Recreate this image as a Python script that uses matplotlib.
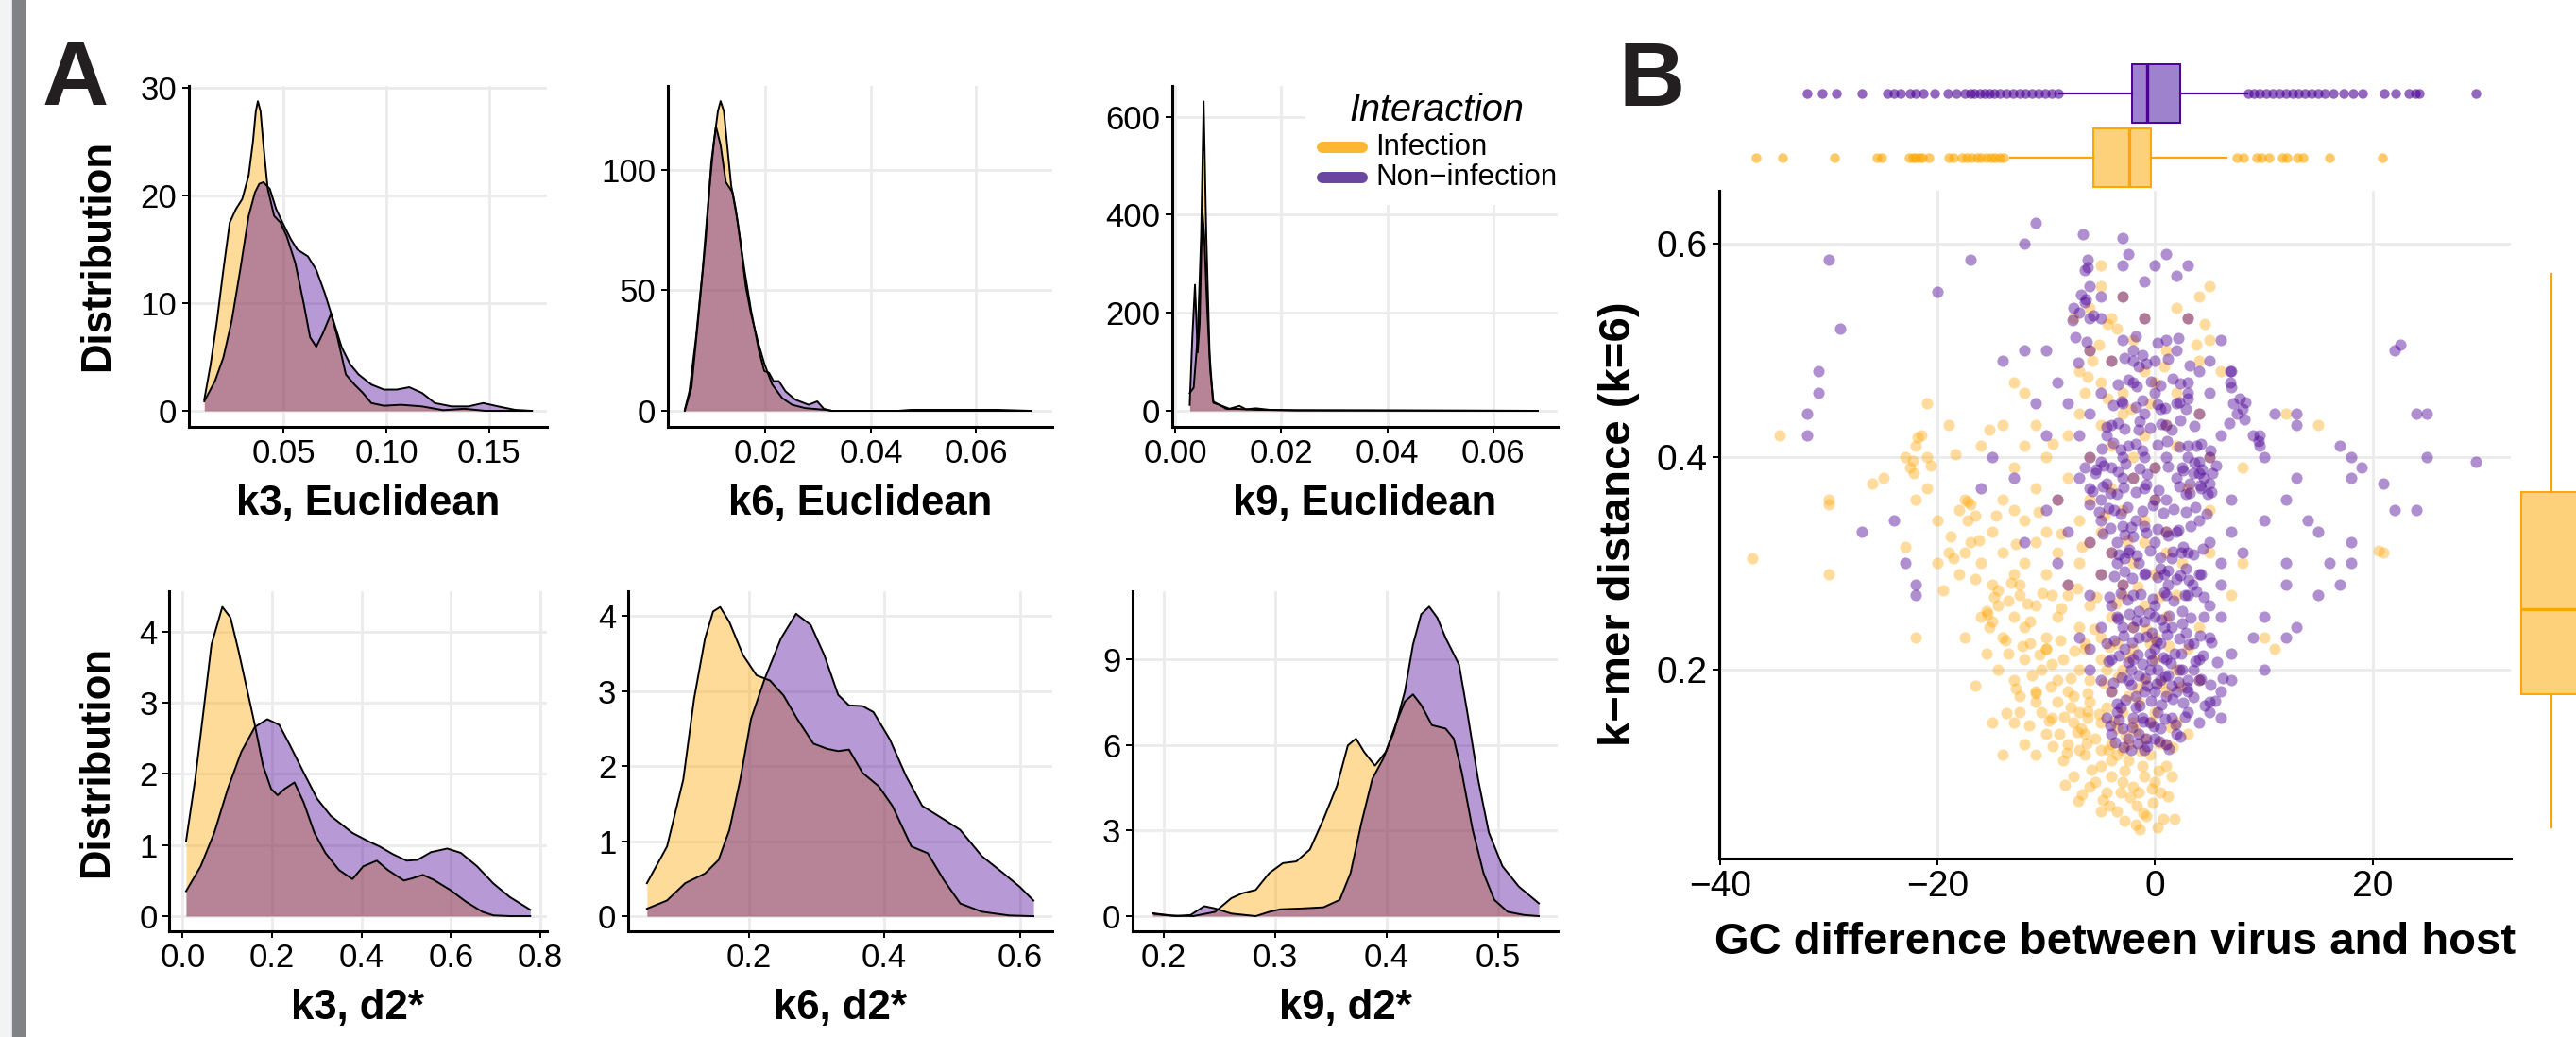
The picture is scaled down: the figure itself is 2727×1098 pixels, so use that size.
import numpy as np
import matplotlib
matplotlib.use("Agg")
import matplotlib.pyplot as plt
from matplotlib.lines import Line2D
from matplotlib.patches import Rectangle

plt.rcParams['font.family'] = ['Liberation Sans', 'DejaVu Sans']

# ---------------- data ----------------
# panel A densities (x, density) for Infection / Non-infection
k3e_x_inf = [0.0113, 0.0144, 0.0175, 0.0206, 0.0237, 0.0267, 0.0298, 0.0329, 0.035, 0.0364, 0.0374, 0.0387,
             0.0401, 0.0422, 0.0453, 0.0484, 0.0514, 0.0556, 0.0597, 0.0628, 0.0658, 0.0689, 0.073, 0.0761,
             0.0802, 0.0844, 0.0885, 0.0926, 0.0988, 0.107, 0.1173, 0.1276, 0.1379, 0.1481, 0.1584, 0.1708]
k3e_y_inf = [1.03, 4.32, 8.39, 13.09, 17.48, 18.73, 19.67, 21.86, 24.99, 27.81, 28.75, 27.81,
             24.68, 20.61, 18.1, 17.48, 16.22, 13.72, 9.96, 6.83, 5.95, 7.14, 9.02, 6.83,
             3.38, 2.44, 1.66, 0.72, 0.47, 0.56, 0.41, 0.06, 0.19, 0.0, 0.0, 0.0]
k3e_x_non = [0.0113, 0.0165, 0.0206, 0.0247, 0.0288, 0.0329, 0.036, 0.0381, 0.0401, 0.0432, 0.0463, 0.0494,
             0.0535, 0.0566, 0.0617, 0.0658, 0.07, 0.0741, 0.0782, 0.0823, 0.0864, 0.0926, 0.0988, 0.1049,
             0.1111, 0.1173, 0.1235, 0.1317, 0.1399, 0.1471, 0.1543, 0.1626, 0.1708]
k3e_y_non = [0.88, 2.76, 4.95, 8.39, 13.09, 18.1, 20.29, 21.08, 21.23, 20.61, 18.73, 17.48,
             15.91, 14.97, 14.35, 13.09, 10.9, 8.39, 5.89, 4.32, 3.38, 2.44, 1.97, 1.97,
             2.19, 1.66, 0.72, 0.41, 0.41, 0.72, 0.41, 0.09, 0.0]

k6e_x_inf = [0.00465, 0.00553, 0.00679, 0.00805, 0.00931, 0.01019, 0.01094, 0.01145, 0.01208, 0.0127, 0.01346,
             0.01434, 0.01522, 0.01623, 0.01723, 0.01849, 0.01975, 0.02126, 0.02314, 0.02503, 0.02755, 0.03132,
             0.03258, 0.04516, 0.05774, 0.07031]
k6e_y_inf = [0.42, 8.1, 30.5, 58.5, 92.0, 111.6, 124.2, 128.4, 124.2, 110.2, 93.4,
             83.6, 69.7, 51.5, 40.3, 29.1, 19.6, 10.9, 5.3, 2.5, 1.1, 0.4,
             0.0, 0.0, 0.0, 0.0]
k6e_x_non = [0.00465, 0.00591, 0.00717, 0.00868, 0.00969, 0.01057, 0.01145, 0.01245, 0.01371, 0.01472, 0.01597,
             0.01723, 0.01874, 0.01975, 0.02063, 0.02151, 0.02252, 0.02377, 0.02566, 0.02818, 0.02981, 0.03107,
             0.03258, 0.04516, 0.04767, 0.06403, 0.07031]
k6e_y_non = [0.0, 9.5, 37.5, 72.4, 103.2, 117.9, 110.2, 94.8, 90.6, 78.0, 58.5,
             41.7, 24.9, 16.5, 15.8, 12.3, 12.3, 8.1, 4.6, 2.5, 3.9, 0.8,
             0.0, 0.0, 0.4, 0.4, 0.0]

k9e_x_inf = [0.00275, 0.0035, 0.00425, 0.0049, 0.00538, 0.00588, 0.0065, 0.00713, 0.00838, 0.01025, 0.01213,
             0.01338, 0.01525, 0.01775, 0.02275, 0.0684]
k9e_y_inf = [36, 47, 150, 356, 631, 356, 116, 19, 12, 4, 10, 3, 5, 2, 1, 0]
k9e_x_non = [0.00275, 0.00325, 0.00375, 0.00425, 0.00463, 0.00513, 0.0055, 0.006, 0.00663, 0.00725, 0.00838,
             0.00963, 0.0115, 0.01525, 0.02275, 0.0684]
k9e_y_non = [12, 150, 257, 119, 178, 411, 356, 219, 81, 16, 12, 4, 4, 2, 1, 0]

k3d_x_inf = [0.0073, 0.0279, 0.0461, 0.0642, 0.0885, 0.1067, 0.1248, 0.143, 0.1612, 0.1794, 0.1976, 0.2121,
             0.2279, 0.2497, 0.2703, 0.2945, 0.3188, 0.3491, 0.3794, 0.4036, 0.4339, 0.4582, 0.4945, 0.5127,
             0.537, 0.5612, 0.5976, 0.6339, 0.6703, 0.6945, 0.7309, 0.777]
k3d_y_inf = [1.05, 1.93, 2.87, 3.82, 4.35, 4.2, 3.73, 3.21, 2.69, 2.12, 1.79, 1.70,
             1.79, 1.88, 1.6, 1.17, 0.89, 0.65, 0.52, 0.70, 0.78, 0.65, 0.5, 0.53,
             0.58, 0.51, 0.37, 0.2, 0.06, 0.01, 0.0, 0.0]
k3d_x_non = [0.0073, 0.04, 0.0703, 0.1006, 0.1309, 0.1612, 0.1891, 0.2158, 0.24, 0.2703, 0.3006, 0.3309,
             0.3794, 0.4158, 0.44, 0.4703, 0.5006, 0.5248, 0.5552, 0.5915, 0.6218, 0.6582, 0.6945, 0.7309, 0.777]
k3d_y_non = [0.35, 0.7, 1.17, 1.79, 2.31, 2.66, 2.77, 2.69, 2.4, 2.02, 1.65, 1.41,
             1.17, 1.05, 0.98, 0.87, 0.78, 0.79, 0.9, 0.95, 0.89, 0.7, 0.46, 0.27, 0.09]

k6d_x_inf = [0.05, 0.0797, 0.1036, 0.1196, 0.1357, 0.1476, 0.158, 0.1716, 0.1917, 0.2116, 0.2316, 0.2516,
             0.2716, 0.2955, 0.316, 0.332, 0.348, 0.368, 0.392, 0.412, 0.44, 0.464, 0.488, 0.512,
             0.544, 0.584, 0.62]
k6d_y_inf = [0.44, 0.93, 1.82, 2.9, 3.7, 4.06, 4.12, 3.92, 3.48, 3.21, 3.14, 2.94,
             2.63, 2.3, 2.23, 2.2, 2.22, 1.91, 1.73, 1.47, 0.93, 0.84, 0.48, 0.17,
             0.06, 0.01, 0.0]
k6d_x_non = [0.05, 0.0797, 0.1064, 0.1357, 0.1557, 0.1716, 0.1876, 0.2036, 0.2236, 0.2476, 0.27, 0.2916,
             0.3115, 0.332, 0.348, 0.368, 0.384, 0.408, 0.432, 0.456, 0.488, 0.512, 0.544, 0.576,
             0.6, 0.62]
k6d_y_non = [0.1, 0.21, 0.44, 0.57, 0.75, 1.15, 1.82, 2.63, 3.16, 3.7, 4.03, 3.88,
             3.48, 2.95, 2.81, 2.8, 2.72, 2.36, 1.87, 1.47, 1.29, 1.15, 0.8, 0.57,
             0.39, 0.21]

k9d_x_inf = [0.1903, 0.2073, 0.2267, 0.2462, 0.2608, 0.2705, 0.2827, 0.2948, 0.307, 0.3191, 0.3313, 0.3434,
             0.3556, 0.3653, 0.3726, 0.3799, 0.3896, 0.3993, 0.4091, 0.4164, 0.4237, 0.431, 0.4407, 0.4529,
             0.4602, 0.4674, 0.4771, 0.4869, 0.4966, 0.5087, 0.5233, 0.5365]
k9d_y_inf = [0.1, 0.02, 0.0, 0.15, 0.63, 0.8, 0.92, 1.51, 1.86, 1.92, 2.34, 3.4,
             4.58, 5.99, 6.23, 5.76, 5.28, 5.76, 6.82, 7.53, 7.78, 7.41, 6.7, 6.58,
             6.23, 5.05, 3.04, 1.51, 0.57, 0.15, 0.04, 0.0]
k9d_x_non = [0.1903, 0.2, 0.2122, 0.2243, 0.2365, 0.2462, 0.2608, 0.2827, 0.2948, 0.3045, 0.324, 0.3434,
             0.358, 0.3677, 0.3775, 0.3872, 0.3969, 0.4066, 0.4164, 0.4237, 0.431, 0.4382, 0.4455, 0.4528,
             0.465, 0.4723, 0.482, 0.4917, 0.5039, 0.5185, 0.5365]
k9d_y_non = [0.09, 0.04, 0.0, 0.04, 0.35, 0.27, 0.09, 0.0, 0.15, 0.24, 0.27, 0.31,
             0.57, 1.51, 3.28, 4.81, 5.52, 6.46, 7.88, 9.53, 10.59, 10.86, 10.47, 9.77,
             8.82, 7.17, 4.81, 2.93, 1.75, 1.04, 0.45]

# panel B scatter: (GC difference, k-mer distance)
infection_pts = [
    (-1.4, 0.05), (-0.8, 0.063), (0.7, 0.06), (-3.5, 0.067), (-5.0, 0.067), (-7.1, 0.077), (-2.3, 0.08),
    (-0.2, 0.075), (1.8, 0.06), (-1.8, 0.055), (0.2, 0.052), (-2.8, 0.058), (-4.2, 0.072), (-1.1, 0.065),
    (-7.5, 0.10), (-6, 0.09), (-5, 0.11), (-4, 0.10), (-3, 0.095), (-2, 0.09), (-1, 0.10), (0, 0.095),
    (1, 0.11), (-6.5, 0.12), (-4.5, 0.085), (-2.5, 0.115), (-1.5, 0.085), (0.5, 0.085), (-11, 0.12),
    (-3.5, 0.12), (-8.5, 0.115), (-0.5, 0.12), (1.5, 0.10), (-5.5, 0.095), (-2.8, 0.105), (-1.2, 0.11),
    (0.3, 0.105), (-4, 0.115), (-5.9, 0.106),
    (-8.3, 0.092), (-6.7, 0.083), (-4.8, 0.078), (-3.2, 0.085), (-1.7, 0.072), (-0.3, 0.088), (1.2, 0.081),
    (-13, 0.15), (-12.5, 0.16), (-11, 0.17), (-10, 0.14), (-9.5, 0.155), (-9, 0.17), (-8, 0.13), (-7.5, 0.15),
    (-7, 0.16), (-6.5, 0.14), (-6, 0.17), (-5.5, 0.135), (-5, 0.15), (-4.5, 0.165), (-4, 0.13), (-3.5, 0.145),
    (-3, 0.16), (-2.5, 0.13), (-2, 0.15), (-1.5, 0.17), (-1, 0.135), (0, 0.16), (1, 0.13), (2, 0.15),
    (-15, 0.15), (-14, 0.12), (-12, 0.13), (-7, 0.125), (-5, 0.125), (-3, 0.125), (3, 0.14), (-6.8, 0.145),
    (-6.2, 0.155), (-7.8, 0.165), (-8.8, 0.14), (-10.5, 0.16), (-6.2, 0.161), (-13.7, 0.159),
    (-9.4, 0.128), (-8.1, 0.122), (-6.3, 0.131), (-4.3, 0.125), (-2.7, 0.138), (-1.3, 0.124), (0.4, 0.131),
    (1.6, 0.127), (-11.6, 0.148), (-9.8, 0.152), (-8.4, 0.156), (-7.2, 0.142), (-5.2, 0.158), (-3.8, 0.152),
    (-1.8, 0.143), (-0.4, 0.151), (1.4, 0.146),
    (-14.5, 0.20), (-13, 0.19), (-12, 0.21), (-11, 0.18), (-10.5, 0.20), (-10, 0.22), (-9, 0.19), (-8.5, 0.21),
    (-8, 0.18), (-7, 0.20), (-6.5, 0.22), (-6, 0.19), (-5, 0.21), (-4, 0.18), (-3, 0.20), (-2, 0.22),
    (-1, 0.19), (0, 0.21), (1, 0.18), (2, 0.20), (3, 0.22), (4, 0.19), (-15.5, 0.215), (-11.5, 0.225),
    (-7.5, 0.175), (-4.5, 0.20), (-2.5, 0.175), (-0.5, 0.225), (-9.5, 0.205), (-12.5, 0.175), (-13.5, 0.215),
    (-16.5, 0.185), (-11, 0.178),
    (-12.8, 0.182), (-11.3, 0.195), (-9.6, 0.184), (-7.8, 0.192), (-6.2, 0.178), (-4.7, 0.188), (-3.4, 0.193),
    (-1.6, 0.182), (0.6, 0.188), (2.4, 0.184),
    (-16, 0.25), (-15, 0.245), (-15.5, 0.255), (-14.5, 0.26), (-14, 0.23), (-13, 0.25), (-12, 0.24),
    (-11, 0.26), (-10, 0.23), (-9, 0.25), (-8, 0.27), (-7, 0.24), (-6, 0.26), (-5, 0.23), (-4, 0.25),
    (-3, 0.27), (-2, 0.24), (-1, 0.26), (0, 0.23), (1, 0.25), (2, 0.27), (4, 0.24), (-22, 0.23),
    (-17.5, 0.23), (-12.5, 0.27), (-9.5, 0.27), (-6.5, 0.225), (-3.5, 0.225), (-15.2, 0.24), (-11.5, 0.245),
    (-13.5, 0.265), (-15.4, 0.252),
    (-13.8, 0.228), (-12.2, 0.222), (-10.6, 0.214), (-8.7, 0.228), (-7.4, 0.218), (-5.6, 0.238), (-4.2, 0.221),
    (-2.4, 0.212), (-0.8, 0.238), (1.3, 0.222),
    (-20, 0.30), (-19, 0.31), (-18, 0.29), (-17.5, 0.31), (-17, 0.32), (-16, 0.30), (-15, 0.28), (-14, 0.31),
    (-13, 0.29), (-12.5, 0.28), (-12, 0.30), (-11, 0.32), (-10, 0.29), (-9, 0.31), (-8, 0.28), (-7, 0.30),
    (-6, 0.32), (-5, 0.29), (-4, 0.31), (-3, 0.28), (-2, 0.30), (-1, 0.32), (0, 0.29), (1, 0.31),
    (2.5, 0.30), (5, 0.31), (-30, 0.29), (-37, 0.305), (-23, 0.315), (-19.5, 0.275), (-14.5, 0.275),
    (-18.5, 0.305), (-16.5, 0.285),
    (-14.8, 0.268), (-13.2, 0.282), (-11.8, 0.262), (-10.4, 0.272), (-8.6, 0.258), (-7.2, 0.276), (-5.4, 0.268),
    (-3.6, 0.262), (-1.6, 0.278), (0.4, 0.268),
    (-22, 0.36), (-21, 0.37), (-20, 0.34), (-18, 0.35), (-17.5, 0.36), (-17, 0.355), (-16.5, 0.345),
    (-15, 0.33), (-14, 0.36), (-13, 0.35), (-12, 0.34), (-11, 0.37), (-10, 0.33), (-9, 0.36), (-8, 0.38),
    (-7, 0.34), (-6, 0.36), (-5, 0.33), (-4, 0.37), (-3, 0.35), (-2, 0.38), (-1, 0.34), (0, 0.36),
    (1, 0.33), (3, 0.37), (5, 0.35), (-30, 0.355), (-30, 0.36), (-25, 0.38), (-26, 0.375), (-17.2, 0.34),
    (-17.2, 0.358),
    (-18.8, 0.325), (-16.2, 0.322), (-14.6, 0.345), (-12.8, 0.318), (-10.7, 0.348), (-8.6, 0.328),
    (-6.7, 0.315), (-4.6, 0.345), (-2.6, 0.322),
    (-23, 0.40), (-22.5, 0.39), (-22, 0.41), (-21.5, 0.42), (-21, 0.40), (-19, 0.43), (-16, 0.41),
    (-14, 0.43), (-13, 0.39), (-12, 0.41), (-11, 0.43), (-10, 0.40), (-8, 0.42), (-7, 0.44), (-6, 0.40),
    (-5, 0.43), (-4, 0.41), (-3, 0.44), (-2, 0.40), (-1, 0.42), (0, 0.39), (1, 0.43), (2, 0.41),
    (4, 0.44), (5, 0.40), (-34.5, 0.42), (-21, 0.45), (15, 0.43), (12, 0.44), (8, 0.39), (-22.2, 0.385),
    (-22.3, 0.396), (-21.8, 0.418), (-20.6, 0.392), (-18.4, 0.402), (-15.2, 0.425), (-9.4, 0.412),
    (-13, 0.47), (-12, 0.46), (-7, 0.48), (-6, 0.50), (-5, 0.47), (-4, 0.49), (-3, 0.46), (-2, 0.51),
    (-1, 0.48), (0, 0.47), (1, 0.50), (2, 0.46), (4, 0.49), (5, 0.51), (6, 0.48), (-6.5, 0.46),
    (-3.5, 0.52), (-0.5, 0.45), (-5.8, 0.49), (-6.2, 0.475), (-4.4, 0.455), (-2.2, 0.445), (0.8, 0.485),
    (-6, 0.54), (-5, 0.56), (-4, 0.53), (-3, 0.55), (-1, 0.53), (2, 0.54), (4, 0.55), (5, 0.56),
    (-7.5, 0.53), (-5, 0.58), (3, 0.53), (-5.2, 0.505), (-4.4, 0.525), (4.6, 0.525), (3.8, 0.505),
    (21, 0.31), (20.5, 0.312), (10, 0.23), (11, 0.22), (7, 0.27), (8, 0.30), (-10, 0.22),
]

non_infection_pts = [
    # dense core, low distance
    (-2.5, 0.19), (-2, 0.21), (-1.5, 0.23), (-1, 0.18), (-0.5, 0.2), (0, 0.22), (0.5, 0.19), (1, 0.21),
    (1.5, 0.24), (2, 0.18), (2.5, 0.2), (-2, 0.24), (-1, 0.245), (0, 0.18), (1, 0.175), (-1.5, 0.195),
    (0.5, 0.225), (1.8, 0.215), (-0.3, 0.235), (-2.8, 0.22), (2.8, 0.235), (-1.2, 0.205), (0.2, 0.2),
    (1.2, 0.195), (-0.7, 0.185), (0.8, 0.24), (-1.8, 0.175), (2.2, 0.2), (-2.2, 0.2), (3, 0.19),
    (-3, 0.24), (0, 0.25), (1.5, 0.185), (-0.5, 0.215),
    (-4.5, 0.155), (-4, 0.14), (-3.5, 0.16), (-3, 0.145), (-2.5, 0.135), (-2, 0.155), (-1.5, 0.14),
    (-1, 0.125), (-0.5, 0.15), (0, 0.135), (0.5, 0.145), (1, 0.13), (-3.2, 0.165), (-1.8, 0.165),
    (0.2, 0.16), (1.5, 0.155), (-0.8, 0.135), (-2.2, 0.125), (2, 0.14), (-1.2, 0.155),
    (-3.7, 0.132), (-2.9, 0.127), (-1.6, 0.131), (-0.7, 0.128), (0.4, 0.133), (1.3, 0.126), (2.3, 0.137),
    (-4.1, 0.148), (-3.3, 0.153), (-2.1, 0.146), (-1.1, 0.151), (-0.1, 0.147), (0.9, 0.154), (1.9, 0.149),
    (2.7, 0.156), (-3.5, 0.168), (-2.7, 0.172), (-1.4, 0.166), (-0.4, 0.171), (0.6, 0.167), (1.6, 0.173),
    (2.6, 0.169), (3.5, 0.174), (4.6, 0.166), (5.5, 0.171),
    (-3.9, 0.188), (-3.1, 0.193), (-2.2, 0.186), (-0.9, 0.192), (0.1, 0.187), (0.9, 0.194), (2.1, 0.189),
    (2.9, 0.183), (4.2, 0.191), (5.1, 0.186), (6.2, 0.192),
    (-4.3, 0.208), (-3.3, 0.213), (-2.5, 0.207), (-1.6, 0.214), (-0.3, 0.209), (0.7, 0.212), (1.4, 0.206),
    (2.4, 0.215), (3.7, 0.208), (4.4, 0.213), (5.7, 0.207),
    (-3.8, 0.228), (-2.9, 0.232), (-2.1, 0.226), (-0.8, 0.231), (0.1, 0.227), (1.1, 0.233), (2.2, 0.229),
    (3.1, 0.224), (4.1, 0.232), (5.2, 0.226),
    (-3.4, 0.248), (-2.4, 0.252), (-1.7, 0.246), (-0.6, 0.253), (0.6, 0.247), (1.3, 0.251), (2.5, 0.244),
    (3.3, 0.249),
    # core, middle distances
    (-4.2, 0.268), (-3.2, 0.272), (-2.6, 0.266), (-1.3, 0.271), (-0.2, 0.267), (0.8, 0.273), (1.7, 0.265),
    (2.7, 0.27), (3.8, 0.274), (4.5, 0.268),
    (-3.8, 0.288), (-2.8, 0.292), (-2.1, 0.286), (-0.9, 0.291), (0.2, 0.287), (1.2, 0.293), (2.3, 0.289),
    (3.1, 0.284), (4.2, 0.29),
    (-3.3, 0.308), (-2.4, 0.313), (-1.7, 0.307), (-0.5, 0.312), (0.5, 0.306), (1.6, 0.311), (2.6, 0.315),
    (3.5, 0.308), (4.4, 0.314),
    (-4.8, 0.328), (-4.1, 0.333), (-2.8, 0.327), (-2.2, 0.334), (-0.8, 0.329), (0.2, 0.332), (1.2, 0.326),
    (2.1, 0.331), (3.3, 0.335),
    (-5.2, 0.348), (-4.3, 0.352), (-3.2, 0.346), (-2.6, 0.353), (-1.2, 0.349), (-0.2, 0.354), (0.7, 0.347),
    (1.7, 0.351), (2.8, 0.348), (3.7, 0.353), (4.7, 0.346),
    (-5.8, 0.368), (-4.8, 0.372), (-4.1, 0.366), (-2.9, 0.371), (-1.8, 0.367), (-0.8, 0.374), (0.3, 0.369),
    (2.2, 0.372), (3.2, 0.366), (4.1, 0.373), (5.2, 0.367),
    (-5.4, 0.388), (-4.7, 0.392), (-3.4, 0.386), (-2.7, 0.393), (-1.4, 0.389), (-0.7, 0.384), (1.2, 0.391),
    (2.6, 0.387), (3.6, 0.394), (4.3, 0.388), (5.6, 0.392),
    (-4.9, 0.408), (-3.9, 0.413), (-3.2, 0.407), (-1.8, 0.412), (-1.2, 0.406), (0.2, 0.411), (1.1, 0.415),
    (2.2, 0.409), (4.2, 0.412), (5.1, 0.406),
    (-4.5, 0.428), (-3.4, 0.432), (-2.8, 0.426), (-1.4, 0.433), (-0.5, 0.427), (0.6, 0.431), (1.5, 0.425),
    (2.3, 0.434), (3.6, 0.429), (6.8, 0.432),
    (-3.9, 0.448), (-3.1, 0.452), (-1.8, 0.447), (-1.2, 0.453), (0.2, 0.449), (0.9, 0.446), (2.2, 0.451),
    (2.8, 0.445), (8.3, 0.451),
    (-3.4, 0.468), (-2.5, 0.472), (-1.7, 0.466), (-0.4, 0.471), (0.5, 0.467), (1.6, 0.473), (2.3, 0.469),
    (-7.1, 0.488), (-2.8, 0.493), (-0.8, 0.487), (1.2, 0.492), (3.2, 0.486),
    (-7.3, 0.512), (-6.3, 0.508), (-1.8, 0.513), (0.2, 0.507), (2.1, 0.511),
    (-7.6, 0.528), (-5.7, 0.533), (-6.8, 0.552), (-6.4, 0.548),
    # clusters
    (2.5, 0.39), (3, 0.40), (3.5, 0.385), (4, 0.395), (4.5, 0.38), (5, 0.40), (5.3, 0.385), (3.8, 0.41),
    (4.2, 0.37), (3.2, 0.375), (4.8, 0.365), (2.8, 0.365), (4, 0.385), (5, 0.375),
    (-7, 0.38), (-6.5, 0.39), (-6, 0.37), (-5.5, 0.385), (-5, 0.36), (-4.5, 0.375), (-4, 0.39),
    (-3.5, 0.365), (-3, 0.38), (-6, 0.355), (-5, 0.395), (-3.8, 0.35),
    (-3.5, 0.32), (-3, 0.335), (-2.5, 0.31), (-2, 0.325), (-1.5, 0.3), (-1, 0.335), (-2.8, 0.305), (-1.8, 0.34),
    (0.8, 0.29), (1.5, 0.305), (2, 0.285), (2.8, 0.295), (3.4, 0.28), (1.2, 0.28), (2.4, 0.31),
    (7.2, 0.45), (7.5, 0.44), (8, 0.445), (8.2, 0.435), (7.8, 0.455), (6.9, 0.47), (6.9, 0.48), (7, 0.465),
    (9.6, 0.42), (9.6, 0.41), (9.5, 0.415), (-7.5, 0.54), (-7, 0.535), (-6.5, 0.545), (-6, 0.53),
    (-6.2, 0.585), (-6.2, 0.578), (-2, 0.49), (-1.5, 0.485), (-1.2, 0.495), (3, 0.46), (3, 0.455),
    # spread
    (-4, 0.18), (-5, 0.19), (3, 0.18), (4, 0.19), (5, 0.17), (6, 0.18), (3.5, 0.2), (7, 0.19), (-6, 0.2),
    (4, 0.15), (5, 0.16), (6, 0.155), (3, 0.16),
    (-6, 0.22), (-5, 0.24), (-4, 0.21), (-3.5, 0.25), (4, 0.21), (5, 0.23), (3.5, 0.225), (-4.5, 0.225),
    (6, 0.25), (4.5, 0.25), (7, 0.215), (-7, 0.23), (9, 0.23), (10, 0.2), (12, 0.23), (13, 0.24),
    (-6, 0.27), (-5, 0.29), (-4, 0.26), (-3, 0.28), (-2, 0.27), (-1, 0.29), (0, 0.26), (1, 0.27),
    (3, 0.27), (4, 0.29), (5, 0.26), (6, 0.28), (-3.5, 0.3), (-1.5, 0.255), (0.5, 0.295), (2.5, 0.255),
    (-8, 0.28), (-9, 0.3), (10, 0.25), (15, 0.27), (17, 0.28), (12, 0.28), (-22, 0.27), (-22, 0.28),
    (-23, 0.3),
    (-6, 0.32), (-5, 0.34), (-4, 0.31), (0, 0.32), (1, 0.33), (2, 0.33), (3, 0.31), (4, 0.34), (5, 0.32),
    (6, 0.3), (7, 0.33), (-8, 0.33), (-10, 0.35), (8, 0.31), (10, 0.34), (12, 0.3), (14, 0.34), (16, 0.3),
    (18, 0.32), (18, 0.3), (15, 0.33), (-24, 0.34), (-27, 0.33), (-12, 0.32), (22, 0.35), (24, 0.35),
    (-2, 0.38), (-3, 0.4), (-1, 0.37), (0, 0.39), (1, 0.36), (2, 0.38), (3, 0.41), (6, 0.42), (-2.5, 0.41),
    (-6, 0.4), (-4.5, 0.42), (9, 0.42), (10, 0.4), (12, 0.36), (13, 0.38), (7, 0.36), (-9, 0.36),
    (-10, 0.42), (-13, 0.38), (-15, 0.4), (-16, 0.37), (17, 0.41), (18, 0.38), (18, 0.4), (19, 0.39),
    (21, 0.375), (25, 0.4), (29.5, 0.395), (-32, 0.42), (1, 0.4), (0, 0.36), (-1, 0.4),
    (-6, 0.44), (-5, 0.46), (-4, 0.43), (-3, 0.45), (-2, 0.47), (-1, 0.44), (0, 0.46), (1, 0.43),
    (2, 0.45), (3, 0.47), (4, 0.44), (5, 0.46), (-7, 0.42), (-8, 0.45), (-9, 0.47), (-11, 0.45),
    (11, 0.44), (13, 0.44), (13, 0.43), (24, 0.44), (25, 0.44), (-32, 0.44), (-31, 0.46), (-31, 0.48),
    (-1.5, 0.425), (0.5, 0.445),
    (-6, 0.5), (-5, 0.53), (-4, 0.49), (-3, 0.51), (-2, 0.5), (-1, 0.53), (0, 0.49), (1, 0.51), (2, 0.5),
    (3, 0.53), (4, 0.48), (5, 0.49), (6, 0.51), (7, 0.48), (-5, 0.55), (-10, 0.5), (-12, 0.5),
    (-14, 0.49), (22, 0.5), (22.5, 0.505), (-29, 0.52), (-3, 0.55),
    (-6.5, 0.575), (-6, 0.56), (-3, 0.58), (-2.5, 0.59), (0, 0.58), (3, 0.58), (-1, 0.565), (2, 0.57),
    (-20, 0.555), (-17, 0.585), (-12, 0.6), (-11, 0.62), (-6.6, 0.609), (-3, 0.605), (1, 0.59), (-30, 0.585),
]

# marginal boxplots (GC difference, top) and (k-mer distance, right)
gc_box_non = dict(med=-0.71, q1=-2.14, q3=2.27, whislo=-8.8, whishi=8.5,
                  fliers=[-32.0, -30.6, -29.3, -27.0, -24.6, -24.0, -23.4, -22.5, -22.0, -21.3, -20.3, -19.1,
                          -18.3, -17.5, -17.0, -16.6, -16.1, -15.7, -15.2, -14.8, -14.3, -13.7, -13.1, -12.5,
                          -11.9, -11.3, -10.7, -10.1, -9.5, -8.9,
                          8.6, 9.1, 9.6, 10.2, 10.8, 11.4, 12.0, 12.6, 13.2, 13.8, 14.4, 15.0, 15.6, 16.4,
                          17.3, 18.2, 19.1, 21.1, 22.1, 23.3, 23.9, 24.3, 29.5])
gc_box_inf = dict(med=-2.39, q1=-5.72, q3=-0.42, whislo=-13.36, whishi=6.6,
                  fliers=[-36.7, -34.3, -29.5, -25.6, -25.1, -22.6, -22.3, -22.0, -21.7, -21.4, -20.8,
                          -19.0, -18.5, -17.8, -17.3, -16.9, -16.4, -16.0, -15.5, -15.1, -14.7, -14.3, -13.9,
                          7.5, 8.1, 9.3, 9.8, 10.5, 11.7, 12.1, 13.1, 13.6, 16.0, 20.9])
dist_box_inf = dict(med=0.257, q1=0.177, q3=0.367, whislo=0.052, whishi=0.572, fliers=[])

# ---------------- figure ----------------
W, H = 2727, 1098
fig = plt.figure(figsize=(W / 100, H / 100), dpi=100)

ORANGE = '#FFA500'
PURPLE = '#4B0096'
GRID = '#ebebeb'

fig.patches.append(Rectangle((0, 0), 13 / W, 1, transform=fig.transFigure, color='#f2f3f5', zorder=0))
fig.patches.append(Rectangle((13 / W, 0), 13 / W, 1, transform=fig.transFigure, color='#808285', zorder=0))


def px_axes(x0, y0, x1, y1):
    return fig.add_axes([x0 / W, 1 - y1 / H, (x1 - x0) / W, (y1 - y0) / H])


def style_axes(ax, labelsize):
    for s in ['top', 'right']:
        ax.spines[s].set_visible(False)
    for s in ['left', 'bottom']:
        ax.spines[s].set_linewidth(2.2)
        ax.spines[s].set_color('black')
    ax.grid(True, color=GRID, lw=2)
    ax.set_axisbelow(True)
    ax.tick_params(length=5, width=1.4, labelsize=labelsize, pad=4, colors='black')


def density_panel(box, xi, yi, xn, yn, xlim, ylim, xticks, xlabels, yticks, xtitle):
    ax = px_axes(*box)
    style_axes(ax, 25)
    ax.fill_between(xi, yi, 0, color=ORANGE, alpha=0.4, lw=0, zorder=2)
    ax.fill_between(xn, yn, 0, color=PURPLE, alpha=0.4, lw=0, zorder=2)
    ax.plot(xi, yi, color='black', lw=1.4, zorder=3)
    ax.plot(xn, yn, color='black', lw=1.4, zorder=3)
    ax.set_xlim(*xlim)
    ax.set_ylim(*ylim)
    ax.set_xticks(xticks)
    ax.set_xticklabels(xlabels)
    ax.set_yticks(yticks)
    ax.set_yticklabels([str(v) for v in yticks])
    fig.text((box[0] + box[2]) / 2 / W, 1 - (box[3] + 82) / H, xtitle, ha='center', va='center',
             fontsize=31.5, fontweight='bold')
    return ax


density_panel((199.6, 91, 579, 452), k3e_x_inf, k3e_y_inf, k3e_x_non, k3e_y_non,
              (0.00364, 0.1781), (-1.49, 30.17), [0.05, 0.10, 0.15], ['0.05', '0.10', '0.15'],
              [0, 10, 20, 30], 'k3, Euclidean')
density_panel((706.6, 91, 1114.2, 452), k6e_x_inf, k6e_y_inf, k6e_x_non, k6e_y_non,
              (0.00136, 0.0745), (-6.66, 134.7), [0.02, 0.04, 0.06], ['0.02', '0.04', '0.06'],
              [0, 50, 100], 'k6, Euclidean')
ax_tr = density_panel((1240.5, 91, 1648.8, 452), k9e_x_inf, k9e_y_inf, k9e_x_non, k9e_y_non,
                      (-0.00062, 0.0721), (-32.8, 662.7), [0.0, 0.02, 0.04, 0.06],
                      ['0.00', '0.02', '0.04', '0.06'], [0, 200, 400, 600], 'k9, Euclidean')
density_panel((179.1, 626, 578.6, 986), k3d_x_inf, k3d_y_inf, k3d_x_non, k3d_y_non,
              (-0.0304, 0.8136), (-0.213, 4.57), [0.0, 0.2, 0.4, 0.6, 0.8],
              ['0.0', '0.2', '0.4', '0.6', '0.8'], [0, 1, 2, 3, 4], 'k3, d2*')
density_panel((664.8, 626, 1114, 986), k6d_x_inf, k6d_y_inf, k6d_x_non, k6d_y_non,
              (0.0221, 0.6478), (-0.2, 4.33), [0.2, 0.4, 0.6], ['0.2', '0.4', '0.6'],
              [0, 1, 2, 3, 4], 'k6, d2*')
density_panel((1199, 626, 1649, 986), k9d_x_inf, k9d_y_inf, k9d_x_non, k9d_y_non,
              (0.1723, 0.5534), (-0.53, 11.4), [0.2, 0.3, 0.4, 0.5], ['0.2', '0.3', '0.4', '0.5'],
              [0, 3, 6, 9], 'k9, d2*')

fig.text(104 / W, 1 - 270 / H, 'Distribution', rotation=90, ha='center', va='center',
         fontsize=31.5, fontweight='bold')
fig.text(103 / W, 1 - 806 / H, 'Distribution', rotation=90, ha='center', va='center',
         fontsize=31.5, fontweight='bold')

# legend on the k9 Euclidean panel
ax_tr.add_patch(Rectangle((1382 / W, 1 - 217 / H), (1649 - 1382) / W, 126 / H, transform=fig.transFigure,
                          facecolor='white', edgecolor='none', zorder=1, clip_on=False))
fig.text(1521 / W, 1 - 117 / H, 'Interaction', ha='center', va='center', fontsize=28.5, style='italic')
for lbl, col, yy in [('Infection', '#fdb733', 156), ('Non\u2212infection', '#6a46a0', 188)]:
    fig.add_artist(Line2D([1400 / W, 1442 / W], [1 - yy / H] * 2, lw=8.6, color=col,
                          solid_capstyle='round', transform=fig.transFigure))
    fig.text(1456 / W, 1 - yy / H, lbl, ha='left', va='center', fontsize=22.5)

# ---------------- panel B ----------------
ax_s = px_axes(1820.3, 201.7, 2658, 908.7)
style_axes(ax_s, 28)
xi, yi = np.array(infection_pts).T
xn, yn = np.array(non_infection_pts).T
ax_s.scatter(xi, yi, s=76, color=ORANGE, alpha=0.38, lw=0, zorder=2)
ax_s.scatter(xn, yn, s=76, color=PURPLE, alpha=0.44, lw=0, zorder=3)
ax_s.set_xlim(-40.05, 32.7)
ax_s.set_ylim(0.023, 0.65)
ax_s.set_xticks([-40, -20, 0, 20])
ax_s.set_yticks([0.2, 0.4, 0.6])
ax_s.set_yticklabels(['0.2', '0.4', '0.6'])
fig.text(2239 / W, 1 - 998 / H, 'GC difference between virus and host', ha='center', va='center',
         fontsize=34, fontweight='bold')
fig.text(1714 / W, 1 - 555 / H, 'k\u2212mer distance (k=6)', rotation=90, ha='center', va='center',
         fontsize=34, fontweight='bold')


def draw_box(ax, stats, pos, fill, edge, orient):
    ax.bxp([stats], positions=[pos], widths=0.92, orientation=orient, patch_artist=True, showcaps=False,
           boxprops=dict(facecolor=fill, edgecolor=edge, lw=1.4),
           medianprops=dict(color=edge, lw=2.4),
           whiskerprops=dict(color=edge, lw=1.6),
           flierprops=dict(marker='o', markerfacecolor=edge, markeredgecolor='none',
                           markersize=7.5, alpha=0.6))


ax_top = px_axes(1820.3, 40, 2658, 200)
draw_box(ax_top, gc_box_inf, 1, '#fdd07a', ORANGE, 'horizontal')
draw_box(ax_top, gc_box_non, 2, '#9e82ce', PURPLE, 'horizontal')
ax_top.set_xlim(-40.05, 32.7)
ax_top.set_ylim(0.507, 2.877)
ax_top.axis('off')

ax_right = px_axes(2662, 201.7, 2900, 908.7)
draw_box(ax_right, dist_box_inf, 1, '#fdd07a', ORANGE, 'vertical')
ax_right.set_ylim(0.023, 0.65)
ax_right.set_xlim(0.432, 3.917)
ax_right.axis('off')

fig.text(45 / W, 1 - 111 / H, 'A', ha='left', va='baseline', fontsize=70, fontweight='bold', color='#231f20')
fig.text(1713 / W, 1 - 112 / H, 'B', ha='left', va='baseline', fontsize=70, fontweight='bold', color='#231f20')

fig.savefig('out.png', dpi=100)
